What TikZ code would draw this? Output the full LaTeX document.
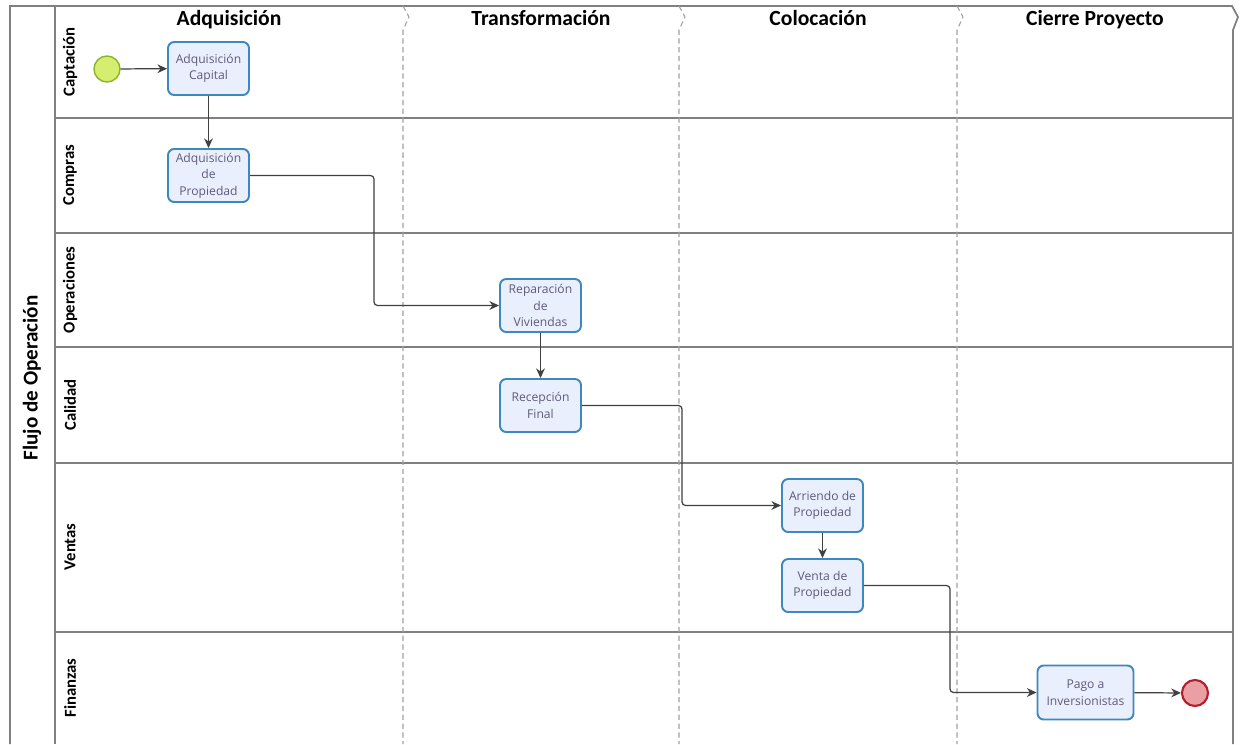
\documentclass[tikz,border=0pt]{standalone}
\usepackage{fontspec}
\setmainfont{Carlito}
\newfontfamily\taskfont{Open Sans}
\usepackage{xcolor}
\usepackage{tikz}
\usetikzlibrary{arrows.meta}

\definecolor{lanegray}{RGB}{128,128,128}
\definecolor{dashgray}{RGB}{160,160,160}
\definecolor{flowgray}{RGB}{64,64,64}
\definecolor{taskblue}{RGB}{60,136,192}
\definecolor{taskfill}{RGB}{233,239,252}
\definecolor{tasktext}{RGB}{96,90,122}
\definecolor{startline}{RGB}{141,181,44}
\definecolor{startfill}{RGB}{214,238,112}
\definecolor{endline}{RGB}{179,32,44}
\definecolor{endfill}{RGB}{233,159,164}

\begin{document}
\begin{tikzpicture}[x=0.02cm, y=-0.02cm,
    task/.style={rectangle, rounded corners=3.5pt, draw=taskblue, line width=1.1pt, fill=taskfill,
        minimum width=1.62cm, minimum height=1.06cm, align=center, inner sep=1pt, text=tasktext,
        font=\taskfont\fontsize{6.9}{9.4}\selectfont},
    startev/.style={circle, draw=startline, fill=startfill, line width=0.8pt, minimum size=0.52cm, inner sep=0pt},
    endev/.style={circle, draw=endline, fill=endfill, line width=1.2pt, minimum size=0.52cm, inner sep=0pt},
    flow/.style={draw=flowgray, line width=0.7pt, rounded corners=2pt, -{Stealth[length=5.5pt,width=5pt]}},
    lanelabel/.style={rotate=90, font=\bfseries\fontsize{9.5}{11}\selectfont},
    colhead/.style={anchor=base, font=\bfseries\fontsize{12.3}{14}\selectfont},
    laneline/.style={draw=lanegray, line width=1pt},
    colline/.style={draw=dashgray, line width=0.6pt, dash pattern=on 3pt off 2pt}]

    \useasboundingbox[fill=white] (0,0) rectangle (1241,744);

    % pool and lanes
    \draw[laneline] (10,744) -- (10,6) -- (1232,6) -- (1238,17) -- (1233,30) -- (1233,744);
    \draw[laneline] (55,6) -- (55,744);
    \foreach \y in {118,233,347,463,632}
        \draw[laneline] (55,\y) -- (1233,\y);
    \foreach \x in {403,679,957}
        \draw[colline] (\x,6) -- (\x+6,17) -- (\x,30) -- (\x,744);

    \node[lanelabel, font=\bfseries\fontsize{12}{14}\selectfont] (P) at (32,378) {Flujo de Operación};
    \node[lanelabel] (L1) at (70,62) {Captación};
    \node[lanelabel] (L2) at (70,175) {Compras};
    \node[lanelabel] (L3) at (70,290) {Operaciones};
    \node[lanelabel] (L4) at (70,405) {Calidad};
    \node[lanelabel] (L5) at (70,547) {Ventas};
    \node[lanelabel] (L6) at (70,688) {Finanzas};

    \node[colhead] (H1) at (229,25) {Adquisición};
    \node[colhead] (H2) at (541,25) {Transformación};
    \node[colhead] (H3) at (818,25) {Colocación};
    \node[colhead] (H4) at (1095,25) {Cierre Proyecto};

    % flow
    \node[startev] (S) at (107,69) {};
    \node[task] (A) at (208.5,68.5) {Adquisición\\Capital};
    \node[task] (B) at (208.5,175.5) {Adquisición\\de\\Propiedad};
    \node[task] (C) at (540.5,305.5) {Reparación\\de\\Viviendas};
    \node[task] (D) at (540.5,405.5) {Recepción\\Final};
    \node[task] (E) at (822.5,505.5) {Arriendo de\\Propiedad};
    \node[task] (F) at (822.5,585.5) {Venta de\\Propiedad};
    \node[task, minimum width=1.92cm, minimum height=1.08cm] (G) at (1085.5,692.5) {Pago a\\Inversionistas};
    \node[endev] (Z) at (1195,693) {};

    \coordinate (b1) at (374,0);
    \coordinate (b2) at (682,0);
    \coordinate (b3) at (950,0);

    \draw[flow] (S) -- (A);
    \draw[flow] (A) -- (B);
    \draw[flow] (B.east) -- (B.east -| b1) -- (b1 |- C.west) -- (C.west);
    \draw[flow] (C) -- (D);
    \draw[flow] (D.east) -- (D.east -| b2) -- (b2 |- E.west) -- (E.west);
    \draw[flow] (E) -- (F);
    \draw[flow] (F.east) -- (F.east -| b3) -- (b3 |- G.west) -- (G.west);
    \draw[flow] (G) -- (Z);
\end{tikzpicture}
\end{document}
